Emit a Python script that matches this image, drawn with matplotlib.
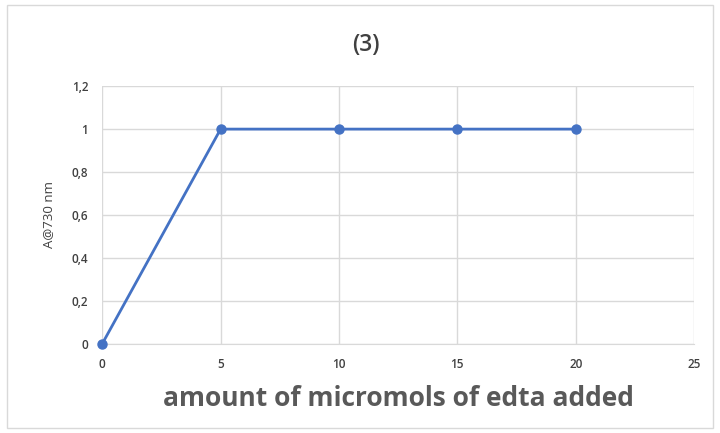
import matplotlib
matplotlib.use('Agg')
import matplotlib.pyplot as plt
from matplotlib.patches import Rectangle
from matplotlib.ticker import FuncFormatter

# data
edta_added = [0, 5, 10, 15, 20]
absorbance = [0, 1, 1, 1, 1]
x_ticks = [0, 5, 10, 15, 20, 25]
y_ticks = [0, 0.2, 0.4, 0.6, 0.8, 1.0, 1.2]

plt.rcParams['font.family'] = ['Open Sans', 'DejaVu Sans']

fig = plt.figure(figsize=(7.2, 4.33), dpi=100)
ax = fig.add_axes([0.142, 0.206, 0.822, 0.595])

# light border around the whole chart area
fig.patches.append(Rectangle((0.01, 0.012), 0.98, 0.976, transform=fig.transFigure,
                             fill=False, edgecolor='#d9d9d9', linewidth=1))

ax.plot(edta_added, absorbance, color='#4472c4', linewidth=2, marker='o',
        markersize=6.5, clip_on=False, zorder=3)

ax.set_xlim(0, 25)
ax.set_ylim(0, 1.2)
ax.set_xticks(x_ticks)
ax.set_yticks(y_ticks)
ax.yaxis.set_major_formatter(FuncFormatter(lambda v, p: f'{v:g}'.replace('.', ',')))

ax.grid(True, color='#d9d9d9', linewidth=1)
ax.set_axisbelow(True)
for side in ['top', 'right', 'left']:
    ax.spines[side].set_visible(False)
ax.spines['bottom'].set_color('#d9d9d9')
ax.tick_params(length=0, labelsize=8.5, labelcolor='#404040', pad=10)
for lbl in ax.get_xticklabels() + ax.get_yticklabels():
    lbl.set_fontweight('semibold')

fig.text(0.508, 0.895, '(3)', ha='center', va='center', fontsize=16.5,
         fontweight='semibold', color='#404040')
ax.set_xlabel('amount of micromols of edta added', fontsize=19, fontweight='bold',
              color='#595959', labelpad=10)
ax.set_ylabel('A@730 nm', fontsize=9.5, color='#404040', labelpad=12)

plt.savefig('out.png', dpi=100)
